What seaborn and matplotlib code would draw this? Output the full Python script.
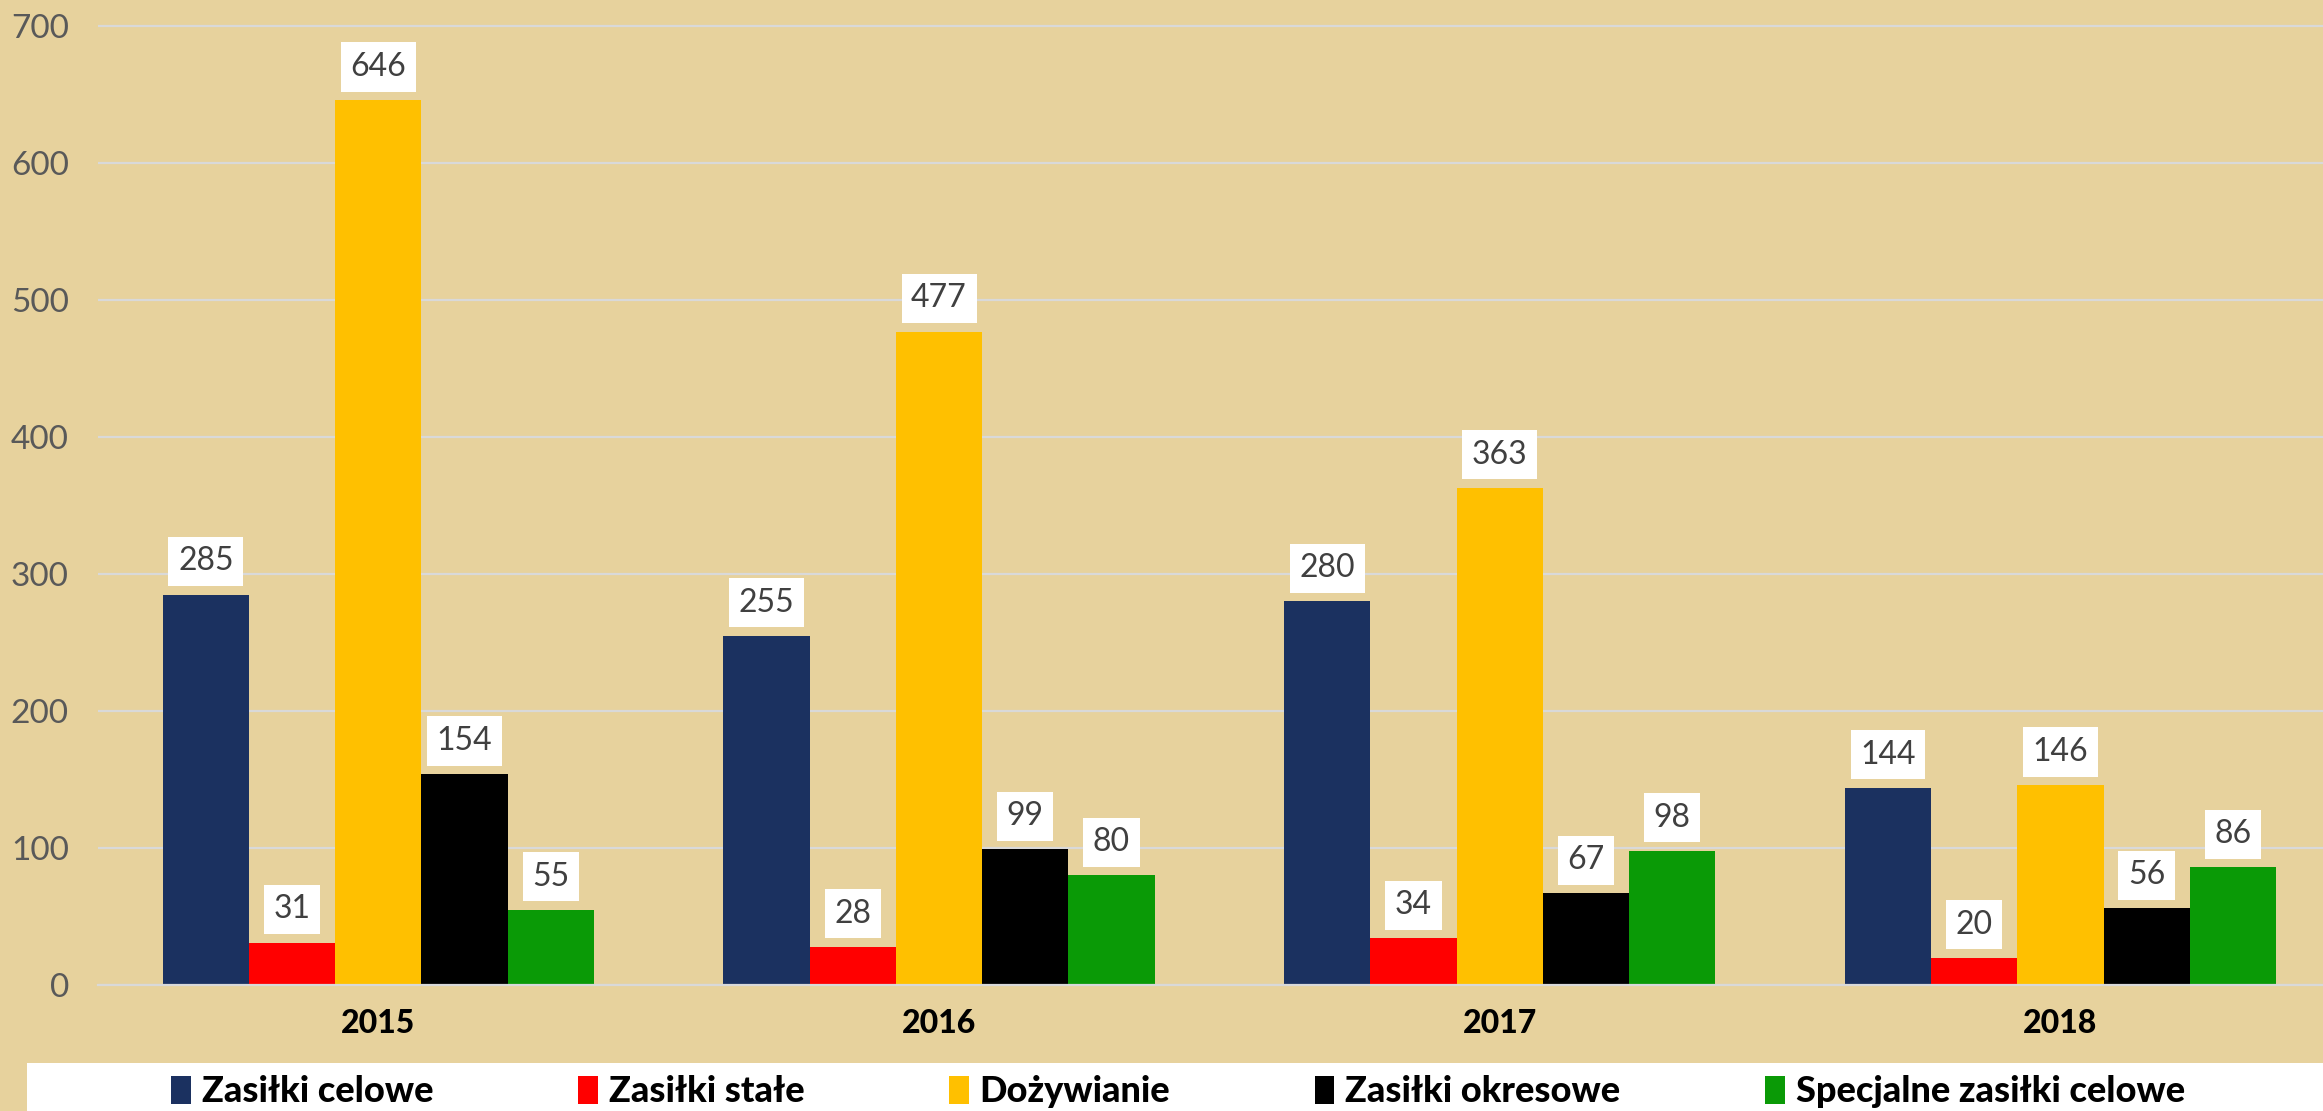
import matplotlib
matplotlib.use("Agg")
import matplotlib.pyplot as plt
from matplotlib.patches import Rectangle, Patch
import seaborn as sns
import pandas as pd

years = ["2015", "2016", "2017", "2018"]
series = ["Zasiłki celowe", "Zasiłki stałe", "Dożywianie", "Zasiłki okresowe", "Specjalne zasiłki celowe"]
zasilki_celowe = [285, 255, 280, 144]
zasilki_stale = [31, 28, 34, 20]
dozywianie = [646, 477, 363, 146]
zasilki_okresowe = [154, 99, 67, 56]
specjalne_zasilki_celowe = [55, 80, 98, 86]
colors = ["#1B3160", "#FF0000", "#FFC000", "#000000", "#0A9A06"]
y_ticks = [0, 100, 200, 300, 400, 500, 600, 700]

values = [zasilki_celowe, zasilki_stale, dozywianie, zasilki_okresowe, specjalne_zasilki_celowe]
rows = []
for s, vals in zip(series, values):
    for y, v in zip(years, vals):
        rows.append({"year": y, "series": s, "value": v})
df = pd.DataFrame(rows)

sns.set_theme(style="white")
plt.rcParams["font.family"] = ["Lato", "DejaVu Sans"]

W, H = 2323, 1111
BG = "#E7D29D"
fig = plt.figure(figsize=(W / 100, H / 100), dpi=100, facecolor=BG)

px_per_unit = (985 - 26) / 700
ymax = 705
ax_left = 98 / W
ax_bottom = (H - 985) / H
ax_height = ymax * px_per_unit / H
ax_width = 4 * 560.7 / W
ax = fig.add_axes([ax_left, ax_bottom, ax_width, ax_height])
ax.set_facecolor(BG)

sns.barplot(data=df, x="year", y="value", hue="series", hue_order=series,
            order=years, palette=colors, saturation=1, width=0.769, gap=0,
            ax=ax, legend=False, edgecolor="none")

ax.set_xlim(-0.5, 3.5)
ax.set_ylim(0, ymax)
ax.set_yticks(y_ticks)
ax.set_yticklabels([str(t) for t in y_ticks])
ax.set_xlabel("")
ax.set_ylabel("")
ax.grid(axis="y", color="#D9D9D9", linewidth=1.6)
ax.grid(axis="x", visible=False)
ax.set_axisbelow(True)
for sp in ["top", "right", "left"]:
    ax.spines[sp].set_visible(False)
ax.spines["bottom"].set_color("#D9D9D9")
ax.spines["bottom"].set_linewidth(1.6)

ax.tick_params(axis="y", length=0, pad=21, labelsize=24, labelcolor="#595959")
ax.tick_params(axis="x", length=0, pad=17, labelsize=23, labelcolor="#000000")
for t in ax.get_yticklabels():
    t.set_fontweight("normal")
for t in ax.get_xticklabels():
    t.set_fontweight("black")

for cont in ax.containers:
    ax.bar_label(cont, padding=13, fontsize=23, color="#404040", fontweight="normal",
                 bbox=dict(boxstyle="square,pad=0.3", fc="white", ec="none"))

# legend band
fig.patches.append(Rectangle((27 / W, 0), 1 - 27 / W, 48 / H, transform=fig.transFigure,
                             facecolor="white", edgecolor="none", zorder=0))
handles = [Patch(facecolor=c, edgecolor="none", label=s) for c, s in zip(colors, series)]
leg = fig.legend(handles=handles, loc="center", bbox_to_anchor=(1178 / W, (H - 1092) / H),
                 ncol=5, frameon=False, prop={"weight": "black", "size": 26},
                 handlelength=0.55, handleheight=0.8, handletextpad=0.3, columnspacing=4.0,
                 borderaxespad=0, borderpad=0)
for t in leg.get_texts():
    t.set_color("black")

fig.savefig("out.png", dpi=100, facecolor=BG)
